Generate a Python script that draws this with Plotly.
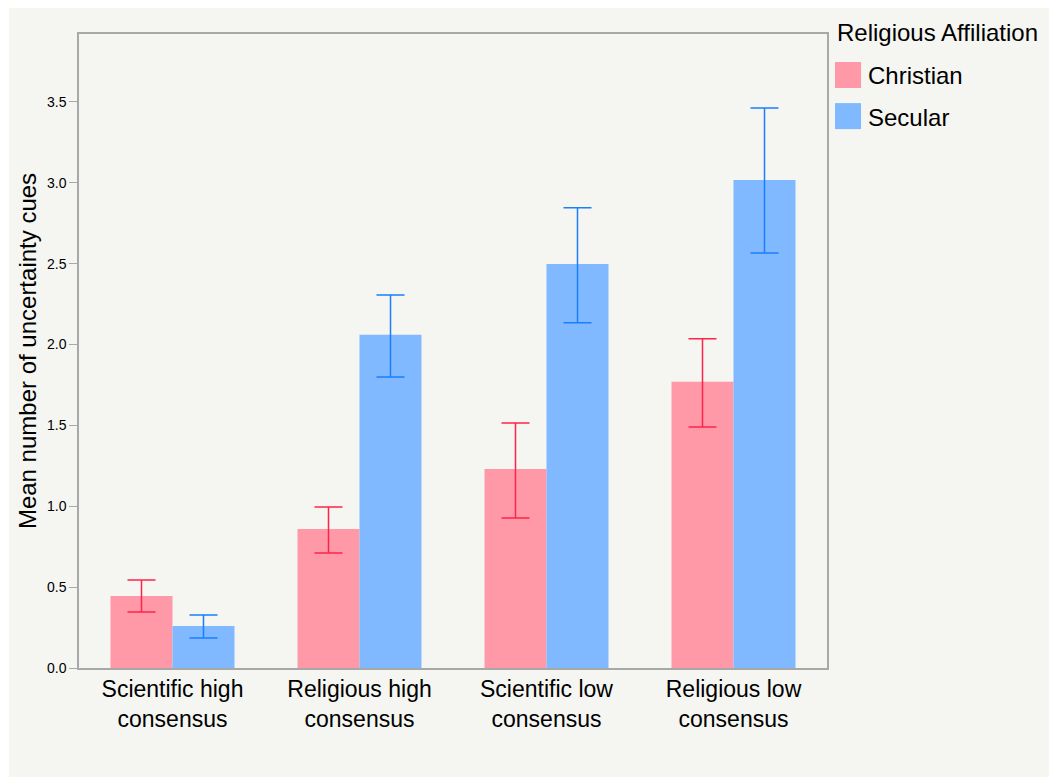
import plotly.graph_objects as go

categories = ["Scientific high<br>consensus", "Religious high<br>consensus",
              "Scientific low<br>consensus", "Religious low<br>consensus"]
series_names = ["Christian", "Secular"]
legend_title = "Religious Affiliation"
christian = [0.445, 0.86, 1.23, 1.77]
christian_hi = [0.544, 0.996, 1.515, 2.035]
christian_lo = [0.346, 0.711, 0.928, 1.49]
secular = [0.26, 2.06, 2.498, 3.018]
secular_hi = [0.328, 2.307, 2.845, 3.463]
secular_lo = [0.186, 1.80, 2.134, 2.566]

bar_colors = ["#ff99a8", "#80b9ff"]
err_colors = ["#ff2447", "#1a7fff"]
font_family = "Liberation Sans, Arial, Helvetica, sans-serif"

def err(vals, hi, lo, color):
    return dict(type="data", symmetric=False,
                array=[h - v for h, v in zip(hi, vals)],
                arrayminus=[v - l for v, l in zip(vals, lo)],
                color=color, thickness=1.5, width=14)

fig = go.Figure()
for name, vals, hi, lo, bc, ec in [
        (series_names[0], christian, christian_hi, christian_lo, bar_colors[0], err_colors[0]),
        (series_names[1], secular, secular_hi, secular_lo, bar_colors[1], err_colors[1])]:
    fig.add_trace(go.Bar(x=categories, y=vals, name=name,
                         marker=dict(color=bc, line=dict(width=0)),
                         error_y=err(vals, hi, lo, ec), showlegend=False))

# custom legend (swatches + text), positioned in paper coordinates
shapes = [dict(type="rect", xref="paper", yref="paper",
               x0=-0.0936, x1=1.33, y0=-0.25, y1=1.07,
               fillcolor="#f5f5f1", line=dict(width=0), layer="below")]
annotations = [dict(text=legend_title, xref="paper", yref="paper",
                    x=1.0107, y=1.0016, xanchor="left", yanchor="middle",
                    showarrow=False, font=dict(size=24))]
sw_rows = [(0.9148, 0.9558, 0.9338), (0.850, 0.891, 0.869)]
for (y0, y1, yt), name, c in zip(sw_rows, series_names, bar_colors):
    shapes.append(dict(type="rect", xref="paper", yref="paper",
                       x0=1.0107, x1=1.0455, y0=y0, y1=y1,
                       fillcolor=c, line=dict(width=0)))
    annotations.append(dict(text=name, xref="paper", yref="paper",
                            x=1.0521, y=yt, xanchor="left", yanchor="middle",
                            showarrow=False, font=dict(size=24)))

fig.update_layout(
    width=1057, height=777,
    margin=dict(l=71, r=238, t=26, b=117),
    paper_bgcolor="white", plot_bgcolor="white",
    barmode="group", bargap=0.337, bargroupgap=0,
    font=dict(family=font_family, color="black"),
    shapes=shapes, annotations=annotations,
    showlegend=False,
    xaxis=dict(showline=True, linecolor="#a8a8a8", linewidth=1.5, mirror=True,
               ticks="", tickfont=dict(size=23), showgrid=False),
    yaxis=dict(range=[0, 3.92], dtick=0.5, tickformat=".1f", showgrid=False,
               zeroline=False,
               showline=True, linecolor="#a8a8a8", linewidth=1.5, mirror=True,
               ticks="outside", ticklen=8, tickcolor="#a8a8a8",
               tickfont=dict(size=14),
               title=dict(text="Mean number of uncertainty cues",
                          font=dict(size=24), standoff=4)),
)

fig.write_html("out.html")
